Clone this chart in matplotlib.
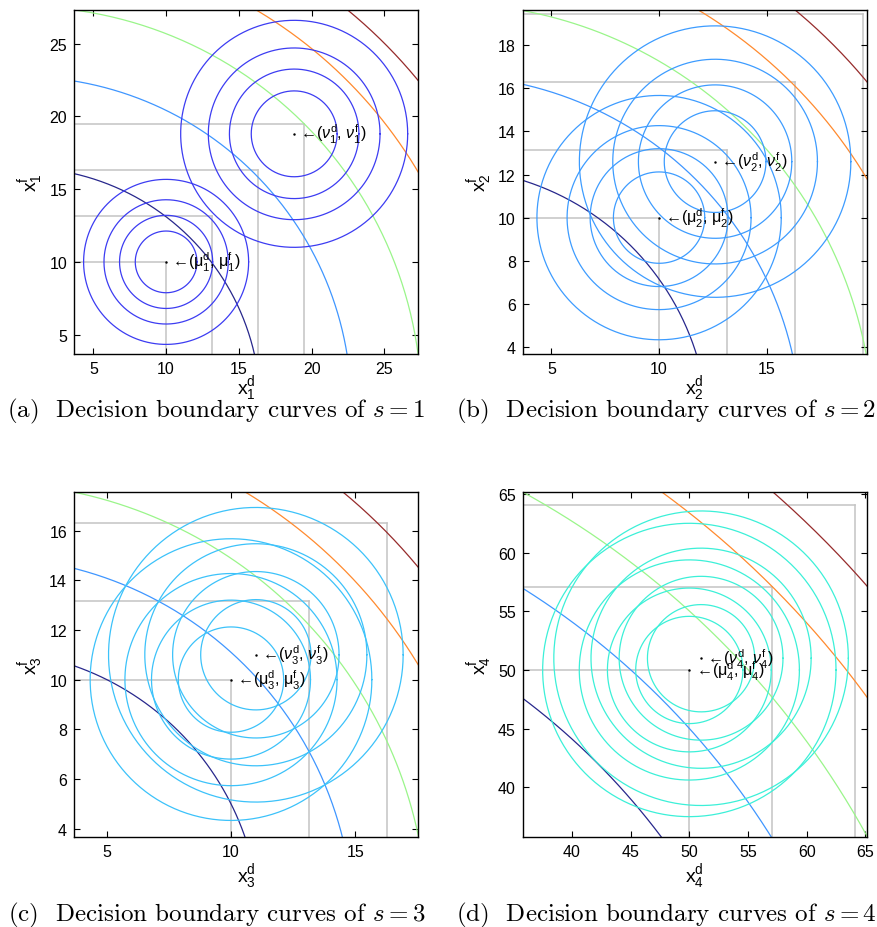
import numpy as np
import matplotlib
matplotlib.use("Agg")
import matplotlib.pyplot as plt

plt.rcParams['font.family'] = 'Liberation Sans'
plt.rcParams['mathtext.fontset'] = 'custom'
plt.rcParams['mathtext.rm'] = 'Liberation Sans'
plt.rcParams['mathtext.it'] = 'Liberation Sans:italic'
plt.rcParams['mathtext.sf'] = 'Liberation Sans'

# data, one entry per panel (s = 1..4)
panel_tags = ['a', 'b', 'c', 'd']
mu = [(10.0, 10.0), (10.0, 10.0), (10.0, 10.0), (50.0, 50.0)]
nu = [(18.8, 18.8), (12.6, 12.6), (11.0, 11.0), (51.0, 51.0)]
mu_radii = [[2.12, 3.2, 4.27, 5.67],
            [2.12, 3.2, 4.27, 5.67],
            [2.12, 3.2, 4.27, 5.67],
            [4.57, 6.98, 9.38, 12.5]]
nu_radii = [[2.95, 4.45, 5.9, 7.8],
            [2.36, 3.56, 4.75, 6.3],
            [2.22, 3.35, 4.47, 5.93],
            [4.57, 6.98, 9.38, 12.55]]
boundary_radii = [[16.48, 22.73, 27.56, 31.75, 35.37],
                  [12.29, 16.6, 19.95, 22.92, 25.53],
                  [11.18, 14.94, 17.93, 20.49, 22.77],
                  [59.55, 67.28, 74.35, 80.73, 86.66]]
corners = [[10, 13.15, 16.3, 19.5],
           [10, 13.15, 16.3, 19.45],
           [10, 13.15, 16.3],
           [50, 57.05, 64.1]]
limits = [(3.67, 27.33), (3.67, 19.65), (3.68, 17.54), (35.8, 65.14)]
xticks = [[5, 10, 15, 20, 25], [5, 10, 15], [5, 10, 15], [40, 45, 50, 55, 60, 65]]
yticks = [[5, 10, 15, 20, 25], [4, 6, 8, 10, 12, 14, 16, 18],
          [4, 6, 8, 10, 12, 14, 16], [40, 45, 50, 55, 60, 65]]

circle_colors = ['#3c3cf2', '#3d9cff', '#3cc2fa', '#3cf0d8']
boundary_colors = ['#27278c', '#3f96ff', '#9af58a', '#ff8a2e', '#962b2b']

fig = plt.figure(figsize=(8.78, 9.28), dpi=100)
W, H = 878.0, 928.0
boxes = [(74, 10.7), (522.7, 10.7), (74, 493.3), (522.7, 493.3)]
size = 344.3
cap_x = [216, 666, 217, 666]
cap_y = [417, 417, 921, 921]
xlab_pad = [-2, -2, 2, 2]

t = np.linspace(0, 2 * np.pi, 400)
q = np.linspace(0, np.pi / 2, 300)

for i in range(4):
    x0, y0 = boxes[i]
    ax = fig.add_axes([x0 / W, 1 - (y0 + size) / H, size / W, size / H])
    lo, hi = limits[i]
    s = i + 1

    for c in corners[i]:
        ax.plot([lo, c], [c, c], color='#c4c4c4', lw=1.1, zorder=1)
        ax.plot([c, c], [lo, c], color='#c4c4c4', lw=1.1, zorder=1)

    for r, col in zip(boundary_radii[i], boundary_colors):
        ax.plot(r * np.cos(q), r * np.sin(q), color=col, lw=0.9, zorder=2)

    for r in mu_radii[i]:
        ax.plot(mu[i][0] + r * np.cos(t), mu[i][1] + r * np.sin(t),
                color=circle_colors[i], lw=0.9, zorder=3)
    for r in nu_radii[i]:
        ax.plot(nu[i][0] + r * np.cos(t), nu[i][1] + r * np.sin(t),
                color=circle_colors[i], lw=0.9, zorder=3)

    mu_lab = u'\u2190($\\mathregular{\\mu_{%d}^{d}}$, $\\mathregular{\\mu_{%d}^{f}}$)' % (s, s)
    nu_lab = u'\u2190($\\nu_{%d}^{\\mathregular{d}}$, $\\nu_{%d}^{\\mathregular{f}}$)' % (s, s)
    for pt, lab in [(mu[i], mu_lab), (nu[i], nu_lab)]:
        ax.plot([pt[0]], [pt[1]], '.', color='k', ms=1.5, zorder=4)
        ax.annotate(lab, xy=pt, xytext=(4.5, 0), textcoords='offset points',
                    va='center', ha='left', fontsize=11.5, zorder=5)

    ax.set_xlim(lo, hi)
    ax.set_ylim(lo, hi)
    ax.set_xticks(xticks[i])
    ax.set_yticks(yticks[i])
    ax.tick_params(direction='in', length=4, width=0.8, top=True, right=True,
                   labelsize=11.5, pad=5)
    for sp in ax.spines.values():
        sp.set_linewidth(1.0)
    ax.set_xlabel(r'$\mathregular{x_{%d}^{d}}$' % s, fontsize=14, labelpad=xlab_pad[i])
    ax.set_ylabel(r'$\mathregular{x_{%d}^{f}}$' % s, fontsize=14, labelpad=3)

    fig.text(cap_x[i] / W, 1 - cap_y[i] / H,
             '(%s)  Decision boundary curves of $s = %d$' % (panel_tags[i], s),
             family='cmr10', math_fontfamily='cm', fontsize=18,
             ha='center', va='baseline')

fig.savefig('out.png', dpi=100)
